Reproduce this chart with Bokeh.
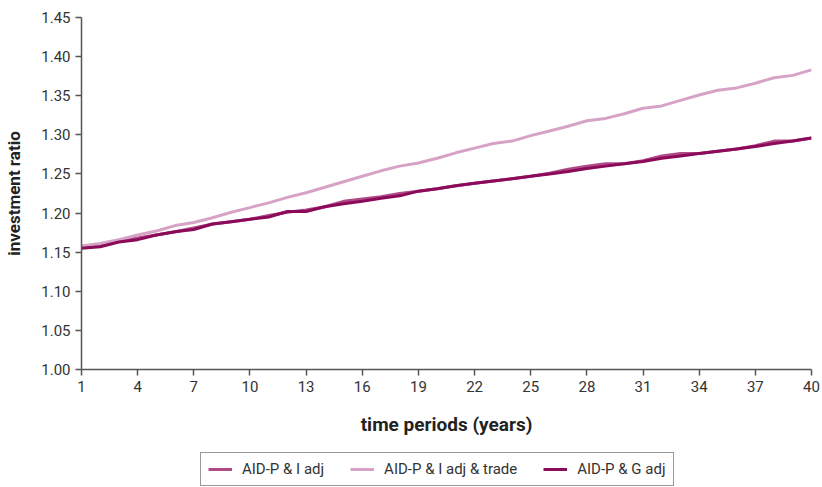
from bokeh.plotting import figure
from bokeh.layouts import column
from bokeh.models import FixedTicker, Legend, LegendItem, Range1d, NumeralTickFormatter
from bokeh.embed import file_html
from bokeh.resources import INLINE

years = list(range(1, 41))
i_adj = [1.157, 1.159, 1.164, 1.168, 1.172, 1.176, 1.181, 1.186, 1.189, 1.192,
         1.197, 1.201, 1.204, 1.208, 1.215, 1.218, 1.221, 1.225, 1.228, 1.231,
         1.235, 1.238, 1.241, 1.244, 1.247, 1.251, 1.256, 1.260, 1.263, 1.263,
         1.267, 1.273, 1.276, 1.276, 1.279, 1.282, 1.286, 1.292, 1.292, 1.296]
i_adj_trade = [1.158, 1.161, 1.166, 1.172, 1.177, 1.184, 1.188, 1.194, 1.201, 1.207,
               1.213, 1.220, 1.226, 1.233, 1.240, 1.247, 1.254, 1.260, 1.264, 1.270,
               1.277, 1.283, 1.289, 1.292, 1.299, 1.305, 1.311, 1.318, 1.321, 1.327,
               1.334, 1.337, 1.344, 1.351, 1.357, 1.360, 1.366, 1.373, 1.376, 1.383]
g_adj = [1.155, 1.157, 1.163, 1.166, 1.172, 1.176, 1.179, 1.186, 1.189, 1.192,
         1.195, 1.202, 1.202, 1.208, 1.212, 1.215, 1.219, 1.222, 1.228, 1.231,
         1.235, 1.238, 1.241, 1.244, 1.247, 1.250, 1.253, 1.257, 1.260, 1.263,
         1.266, 1.270, 1.273, 1.276, 1.279, 1.282, 1.285, 1.289, 1.292, 1.296]
series_names = ["AID-P & I adj", "AID-P & I adj & trade", "AID-P & G adj"]
series_colors = ["#b04a86", "#d6a3c6", "#8c0a5a"]
x_ticks = list(range(1, 41, 3))
y_ticks = [1.00, 1.05, 1.10, 1.15, 1.20, 1.25, 1.30, 1.35, 1.40, 1.45]

FONT = "Roboto"

# main chart
p = figure(frame_width=730, frame_height=352, output_backend="svg", toolbar_location=None,
           x_range=Range1d(1, 40), y_range=Range1d(1.0, 1.45),
           min_border_left=81, min_border_right=11, min_border_top=17, min_border_bottom=76)
p.outline_line_color = None
p.xgrid.visible = False
p.ygrid.visible = False

all_series = [i_adj, i_adj_trade, g_adj]
for vals, col in zip(all_series, series_colors):
    p.line(years, vals, line_color=col, line_width=3)

for ax in (p.xaxis[0], p.yaxis[0]):
    ax.axis_line_color = "#555555"
    ax.axis_line_width = 1.5
    ax.major_tick_line_color = "#555555"
    ax.major_tick_line_width = 1.5
    ax.major_tick_in = 0
    ax.major_tick_out = 6
    ax.minor_tick_line_color = None
    ax.major_label_text_font = FONT
    ax.major_label_text_font_size = "15px"
    ax.major_label_text_color = "#333333"
    ax.axis_label_text_font = FONT
    ax.axis_label_text_font_style = "bold"
    ax.axis_label_text_color = "#222222"

p.xaxis.axis_label_text_font_size = "19px"
p.yaxis.axis_label_text_font_size = "17px"
p.xaxis.ticker = FixedTicker(ticks=x_ticks)
p.yaxis.ticker = FixedTicker(ticks=y_ticks)
p.yaxis.formatter = NumeralTickFormatter(format="0.00")
p.xaxis.axis_label = "time periods (years)"
p.yaxis.axis_label = "investment ratio"
p.xaxis.axis_label_standoff = 18
p.yaxis.axis_label_standoff = 14

# legend strip below the chart (same series, outside its visible range)
p2 = figure(width=822, height=42, output_backend="svg", toolbar_location=None,
            x_range=Range1d(-20, -19), y_range=Range1d(1.0, 1.45),
            x_axis_location=None, y_axis_location=None,
            min_border_left=0, min_border_right=0, min_border_top=0, min_border_bottom=0)
p2.outline_line_color = None
p2.xgrid.visible = False
p2.ygrid.visible = False
items = []
for vals, col, name in zip(all_series, series_colors, series_names):
    r = p2.line(years, vals, line_color=col, line_width=3)
    items.append(LegendItem(label=name, renderers=[r]))

legend = Legend(items=items, orientation="horizontal", location=(119, 1),
                border_line_color="#333333", border_line_width=1,
                label_text_font=FONT, label_text_font_size="15px",
                label_text_color="#333333", glyph_width=24, glyph_height=18,
                label_standoff=10, spacing=26, padding=7, margin=0)
p2.add_layout(legend, "center")

layout = column(p, p2, spacing=0)
open("out.html", "w").write(file_html(layout, INLINE))
